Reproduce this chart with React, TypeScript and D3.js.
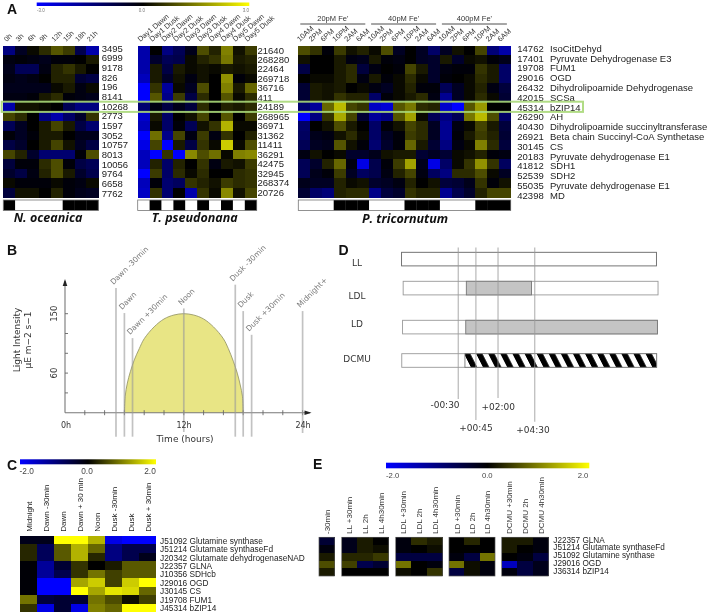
import React from "react";
import * as d3 from "d3";

// ---------- Panel A data ----------
const scaleA = [-3, 0, 3];
const oceanicaCols = ["0h", "3h", "6h", "9h", "12h", "15h", "18h", "21h"];
const oceanicaIds = ["3495", "6999", "9178", "826", "196", "8141", "10268", "2773", "1597", "3052", "10757", "8013", "10056", "9764", "6658", "7762"];
const oceanicaVals = [
  [-1.5, -0.4, 0.1, 0.5, 1, 0.7, -0.9, -2],
  [-0.2, -0.1, -0.2, -0.3, -0.1, -0.1, 0, 0.3],
  [-0.3, -1, -1, -0.2, 0.4, 0.6, 0.3, 0],
  [-0.2, -0.3, -0.2, 0, 0.4, 0.4, -0.6, -0.8],
  [-0.3, -0.3, -0.3, -0.3, 0.1, 0.3, -0.2, 0.1],
  [-0.2, -0.2, -0.1, 0.3, 0.5, -0.1, -0.2, -0.3],
  [-2, 0.2, 0.2, 0.1, 0, -1, -1.5, -1.5],
  [0.8, 0.5, 0, -1.5, -2, -1.2, -0.5, 0.6],
  [-1, -0.4, 0, 0.3, 0.8, 0.3, -0.8, -1.3],
  [-0.1, -0.4, -0.1, 0.3, 0.3, 0, -0.3, -0.3],
  [-0.8, -0.5, 0, 0.3, 0.8, 0.2, -0.4, -0.8],
  [0.8, 0.4, -0.5, -1.3, -1.3, -1.3, -0.1, 0.9],
  [-0.7, -0.1, -0.1, 0.5, 0.9, -0.1, -0.8, -1],
  [-0.5, -0.8, -0.2, 0.4, 0.9, 0.3, -0.5, -0.9],
  [0.1, -0.1, -0.1, -0.1, 0.1, -0.1, -0.2, 0.1],
  [-0.7, 0.2, 0.2, 0, 0.4, -0.1, -0.3, -0.4],
];
const oceanicaStrip = [1, 0, 0, 0, 0, 1, 1, 1];

const pseudoCols = ["Day1 Dawn", "Day1 Dusk", "Day2 Dawn", "Day2 Dusk", "Day3 Dawn", "Day3 Dusk", "Day4 Dawn", "Day4 Dusk", "Day5 Dawn", "Day5 Dusk"];
const pseudoIds = ["21640", "268280", "22464", "269718", "36716", "411", "24189", "268965", "36971", "31362", "11411", "36291", "42475", "32945", "268374", "20726"];
const pseudoVals = [
  [-2, 0, -1.5, -1, -0.3, 0.9, 0.4, 1.5, 0.2, 0.7],
  [-2, -0.5, -1, -0.9, 0.1, 0.4, 0.6, 1.4, 0.3, 0.4],
  [-2, 0.3, -0.8, 0.3, 0.1, 0.2, 0.1, 0.3, 0.2, 0.3],
  [-2.2, 0.3, -0.5, 0.2, -0.2, 0.2, 0, 1.7, -0.1, 0.1],
  [-3, 0.6, -1.8, 0.1, -0.4, 0.9, 0, 1.5, 0.3, 1.2],
  [-3, 1, -1.6, 0.7, -0.8, 0.5, 0, 1, 0.1, 0.5],
  [-1.3, -0.2, -0.8, -0.3, -0.7, 0.5, 0, 0.4, 0.3, 0.5],
  [-2.4, 0.3, -1.2, 0, 0.2, 0.8, 0, 1, 0, 0.7],
  [-2.2, 0.1, -1.2, -0.1, -1, 0.2, 0.6, 2.1, 0.1, 0.1],
  [-3, 1.3, -1.6, 0.8, -0.2, 0.7, -0.2, 0.6, 0, 0.4],
  [-2.7, 0.8, -3, 0.3, -0.8, 0.6, 0.1, 2.4, 0.1, 0.9],
  [-2.2, -3, 0.6, -3, 1.6, 0.9, 1.3, 0.1, 1.5, 1.6],
  [-2.2, 0.4, -1.2, 0.4, 0, 0.6, -0.2, 0.3, 0.2, 0.7],
  [-3, 0.7, -1.2, 0.5, 0.1, 0.5, 0, 0, 0.5, 0.6],
  [-2.2, -0.1, -1.3, -1.1, 0.6, 0.4, 0.2, 0.7, 0.5, 0.6],
  [-2.3, 0.6, -1.3, 0, -2, 0.6, 0.1, 1.6, 0.2, 0.8],
];
const pseudoStrip = [0, 1, 0, 1, 0, 1, 0, 1, 0, 1];

const tricoCols = ["10AM", "2PM", "6PM", "10PM", "2AM", "6AM", "10AM", "2PM", "6PM", "10PM", "2AM", "6AM", "10AM", "2PM", "6PM", "10PM", "2AM", "6AM"];
const tricoIds = ["14762", "17401", "19708", "29016", "26432", "42015", "45314", "26290", "40430", "26921", "30145", "20183", "41812", "52539", "55035", "42398"];
const tricoNames = ["IsoCitDehyd", "Pyruvate Dehydrogenase E3", "FUM1", "OGD", "Dihydrolipoamide Dehydrogenase", "SCSa", "bZIP14", "AH", "Dihydrolipoamide succinyltransferase", "Beta chain Succinyl-CoA Synthetase", "CS", "Pyruvate dehydrogenase E1", "SDH1", "SDH2", "Pyruvate dehydrogenase E1", "MD"];
const tricoVals = [
  [0.9, 0.6, -0.1, 0.7, 0.2, 0.4, 0.1, 0.9, -0.4, 0, -0.4, -1.2, -0.4, 0.2, 0, 0.8, -1.4, -2],
  [0.2, 0, 0, 0.3, -0.2, -0.3, 0.3, -0.1, -0.2, 0, -0.4, -0.5, 0.3, -0.5, 0.1, 0.2, -0.1, -0.3],
  [-0.8, 0, 0, 0.3, 0.5, -0.7, -0.2, 0, -0.1, 0.8, 0.3, -0.5, -0.2, -0.1, -0.1, 0.6, 0.3, -1.2],
  [0, 0.1, 0.1, 0.3, 0.5, -0.2, 0.3, -0.1, 0.1, 0.5, 0.1, -0.5, -0.1, 0, 0.1, 0.5, 0.3, -1.2],
  [-0.6, 0.3, 0.2, 0.3, 0, 0.1, -0.2, -0.4, 0.1, 0.4, -0.1, -0.1, -1, -0.4, 0.1, 0.4, -0.2, -0.7],
  [-0.6, 0.3, 0.2, 0.6, 0.4, 0.4, -1.2, -0.1, 0.1, 0.3, 0.5, -0.2, -1.7, -0.4, 0.1, 0.5, 0.1, -0.6],
  [-1.3, -1.8, 1.2, 2.2, 0.8, 0.6, -2.3, -2.5, 1, 1.4, 0.5, 0.4, -2.4, -3, 1, 1.8, 0, 0],
  [-3, -1.5, 0.6, 2, 0.8, -0.6, -1.8, -1.5, 1, 1.9, 0.1, -1, -1.5, -1, 1.4, 2.2, 0.9, -1.2],
  [-1.2, 0, 0.2, 0.9, 0.3, 0, -1.2, -0.1, 0.2, 0.8, 0.5, -0.4, -1.7, -0.2, 0.1, 0.8, 0.3, -0.7],
  [-1.1, -0.3, -0.2, 0.2, 0.5, 0.1, -1.2, -0.4, -0.1, 0.7, 0.5, -0.4, -1.7, -0.1, 0.3, 0.7, 0.4, -0.6],
  [-1, -0.4, -0.3, 1, 0.2, -0.1, -1.3, -0.5, -0.1, 1.2, 0.3, -0.6, -1.5, -0.2, 0.1, 1.5, 0.5, -0.7],
  [-0.2, 0.2, 0, 0.1, -0.5, -0.5, -0.3, 0.2, 0.3, 0.3, -0.6, -0.4, -0.6, 0.1, 0.2, 0.4, -0.1, -0.2],
  [-1, -0.5, 0.4, 1.2, -0.2, -2.7, -0.9, -0.1, 0.7, 1.9, -0.3, -2.7, -1.2, 0.1, 0.6, 1.7, 0.6, -1.1],
  [-1, -0.3, -0.1, 0.7, -0.4, -1.1, -0.9, -0.2, 0.4, 0.8, -0.2, -1.1, -1.5, 0.5, 0.5, 0.9, 0.1, -0.4],
  [-0.3, -0.4, -0.4, 0.4, 0.1, 0.2, -0.5, -0.4, -0.2, 0.4, 0, 0.2, -0.7, -0.6, -0.3, 0.6, -0.1, 0.2],
  [-0.6, -1.2, -1.4, 0.4, 0.5, 0.5, -1.6, -0.7, -0.5, 0.6, 0.4, 0.4, -1.7, -0.9, -0.5, 0.4, 0.8, 0.8],
];
const tricoStrip = [0, 0, 0, 1, 1, 1, 0, 0, 0, 1, 1, 1, 0, 0, 0, 1, 1, 1];
const feGroups = ["20pM Fe'", "40pM Fe'", "400pM Fe'"];

// ---------- Panel B data ----------
const lightHours = [6, 6.08, 6.3, 6.6, 7, 7.5, 8, 9, 10, 11, 12, 13, 14, 15, 16, 16.5, 17, 17.4, 17.7, 17.92, 18];
const lightValues = [0, 25, 45, 62, 80, 97, 112, 130, 142, 148, 150, 148, 142, 130, 112, 97, 78, 60, 42, 25, 0];
const eventLabels = ["Dawn -30min", "Dawn", "Dawn +30min", "Noon", "Dusk -30min", "Dusk", "Dusk +30min", "Midnight+"];
const eventHours = [5.15, 6, 6.82, 12, 17.2, 18, 18.85, 24];
const eventTopValues = [189, 151, 113, 158, 194, 154, 118, 154];
const xTickHours = [2, 4, 6, 8, 10, 12, 14, 16, 18, 20, 22, 24];
const yTickValues = [30, 60, 90, 120, 150];

// ---------- Panel D data ----------
const treatNames = ["LL", "LDL", "LD", "DCMU"];
const treatOffsets = [-0.2, 1.4, 0.8, 0];
const treatDarkStart = [null, 0, 0, 0];
const treatDarkEnd = [null, 4.2, 12.48, 12.48];
const timeHours = [-0.5, 0.65, 2.1, 4.5];
const timeLabels = ["-00:30", "+00:45", "+02:00", "+04:30"];

// ---------- Panel C data ----------
const cCols = ["Midnight", "Dawn -30min", "Dawn", "Dawn + 30 min", "Noon", "Dusk -30min", "Dusk", "Dusk + 30min"];
const cRows = ["J51092 Glutamine synthase", "J51214 Glutamate synthaseFd", "J20342 Glutamate dehydrogenaseNAD", "J22357 GLNA", "J10356 SDHcb", "J29016 OGD", "J30145 CS", "J19708 FUM1", "J45314 bZIP14"];
const cVals = [
  [-0.2, -0.2, 2, 2, 1.4, -1.8, -2, -2],
  [0.3, -0.7, 0.7, 1.4, 0.8, -1, -0.6, -0.6],
  [0.3, -0.7, 0.7, 1.4, 0.3, -1, -0.6, -0.2],
  [-0.05, -1.2, -0.4, 0.4, 0, 0.2, 0.7, 0.7],
  [-0.05, -1.2, -0.6, 0.4, 0.9, 0.5, 0.7, 0.7],
  [-0.05, -2, -2, 1.3, 1.6, 0.5, 1.6, 2],
  [-0.05, -2, -2, 2, 1.3, 1.8, 1.7, 0.8],
  [0.9, -0.5, -0.4, -0.4, 0.9, 0.6, 0.1, 0.5],
  [0.4, -1.8, -0.4, -1.8, 1, 0.8, 2, 2],
];

// ---------- Panel E data ----------
const eRows = ["J22357 GLNA", "J51214 Glutamate synthaseFd", "J51092 Glutamine synthase", "J29016 OGD", "J36314 bZIP14"];
const eBaseCols = ["-30min"];
const eBaseVals = [[-0.4], [-0.1], [0.2], [0.6], [0.2]];
const eLLCols = ["LL +30min", "LL 2h", "LL 4h30min"];
const eLLVals = [[-0.2, 0.2, 0], [-0.2, 0.2, 0.1], [0.3, 0.3, 0.45], [0.5, -0.6, -0.4], [0, 0, 0]];
const eLDLCols = ["LDL +30min", "LDL 2h", "LDL 4h30min"];
const eLDLVals = [[-0.1, 0.35, 0.2], [-0.1, 0, 0.1], [-0.5, -0.5, -0.5], [0.9, 0, -0.1], [0.1, 0, 0.4]];
const eLDCols = ["LD +30min", "LD 2h", "LD 4h30min"];
const eLDVals = [[0, 0.3, 0], [0, 0, 0], [-0.1, -0.5, 0.9], [0.9, 0.1, -0.1], [-0.5, 0.1, -0.1]];
const eDCMUCols = ["DCMU +30min", "DCMU 2h", "DCMU 4h30min"];
const eDCMUVals = [[0.2, 0.2, -0.1], [0.2, 0, -0.1], [0, -0.1, -0.5], [-1.5, -0.5, -0.2], [-0.1, -0.5, -0.2]];
const scaleTwo = [-2, 0, 2];

const ARIAL = "'Liberation Sans', Arial, sans-serif";
const DEJAVU = "'DejaVu Sans', sans-serif";
const SPECIES = "'Open Sans', sans-serif";
const RAMP = ["#0000ff", "#000000", "#ffff00"];
const colorFor = (domain: number[]) => d3.scaleLinear<string>().domain(domain).range(RAMP).clamp(true);

function Heat({ x0, x1, y0, y1, cols, vals, domain }: any) {
  const xs = d3.scaleBand<number>().domain(d3.range(cols)).range([x0, x1]);
  const ys = d3.scaleBand<number>().domain(d3.range(vals.length)).range([y0, y1]);
  const c = colorFor(domain);
  return (
    <g shapeRendering="crispEdges">
      {vals.map((row: number[], r: number) =>
        row.map((v, i) => (
          <rect key={r + "-" + i} x={xs(i)} y={ys(r)} width={xs.bandwidth() + 0.4} height={ys.bandwidth() + 0.4} fill={c(v)} />
        ))
      )}
    </g>
  );
}

function RotCols({ x0, x1, labels, y, dx, angle, size, fill = "#333" }: any) {
  const xs = d3.scaleBand<number>().domain(d3.range(labels.length)).range([x0, x1]);
  return (
    <g fontFamily={ARIAL} fontSize={size} fill={fill}>
      {labels.map((t: string, i: number) => {
        const x = xs(i)! + xs.bandwidth() / 2 + dx;
        return <text key={i} transform={`translate(${x},${y}) rotate(${angle})`}>{t}</text>;
      })}
    </g>
  );
}

function Strip({ x0, x1, y0, y1, flags }: any) {
  const xs = d3.scaleBand<number>().domain(d3.range(flags.length)).range([x0, x1]);
  return (
    <g>
      {flags.map((f: number, i: number) => (
        <rect key={i} x={xs(i)} y={y0} width={xs.bandwidth() + 0.3} height={y1 - y0} fill={f ? "#000" : "#fff"} />
      ))}
      <rect x={x0} y={y0} width={x1 - x0} height={y1 - y0} fill="none" stroke="#777" strokeWidth={0.8} />
    </g>
  );
}

function IdColumn({ x, y0, y1, ids, size = 9.5 }: any) {
  const ys = d3.scaleLinear().domain([0, ids.length - 1]).range([y0, y1]);
  return (
    <g fontFamily={ARIAL} fontSize={size} fill="#222" dominantBaseline="central">
      {ids.map((t: string, i: number) => <text key={i} x={x} y={ys(i)}>{t}</text>)}
    </g>
  );
}

function ColorBar({ id, x0, x1, y0, y1 }: any) {
  return (
    <g>
      <defs>
        <linearGradient id={id}>
          <stop offset="0" stopColor={RAMP[0]} />
          <stop offset="0.5" stopColor={RAMP[1]} />
          <stop offset="1" stopColor={RAMP[2]} />
        </linearGradient>
      </defs>
      <rect x={x0} y={y0} width={x1 - x0} height={y1 - y0} fill={`url(#${id})`} />
    </g>
  );
}

function PanelA() {
  const top = 45.5, bottom = 197.3;
  return (
    <g>
      <ColorBar id="gradA" x0={36.7} x1={249.3} y0={2.5} y1={6} />
      <g fontFamily={ARIAL} fontSize={4.5} fill="#777" textAnchor="middle">
        <text x={41} y={11.5}>-3.0</text>
        <text x={142} y={11.5}>0.0</text>
        <text x={246} y={11.5}>3.0</text>
      </g>
      <Heat x0={3.3} x1={98.3} y0={top} y1={bottom} cols={8} vals={oceanicaVals} domain={scaleA} />
      <Heat x0={137.7} x1={256.7} y0={top} y1={bottom} cols={10} vals={pseudoVals} domain={scaleA} />
      <Heat x0={298.3} x1={510.7} y0={top} y1={bottom} cols={18} vals={tricoVals} domain={scaleA} />
      <RotCols x0={3.3} x1={98.3} labels={oceanicaCols} y={42} dx={-2.5} angle={-45} size={7} />
      <RotCols x0={137.7} x1={256.7} labels={pseudoCols} y={42} dx={-3.5} angle={-40} size={7.4} />
      <RotCols x0={298.3} x1={510.7} labels={tricoCols} y={42} dx={-4.5} angle={-42} size={7.4} />
      {feGroups.map((t, i) => {
        const xs = d3.scaleBand<number>().domain(d3.range(3)).range([298.3, 510.7]);
        const x = xs(i)!;
        return (
          <g key={t}>
            <line x1={x + 2} x2={x + 67} y1={24} y2={24} stroke="#222" strokeWidth={0.8} />
            <text x={x + 34.5} y={21} textAnchor="middle" fontFamily={ARIAL} fontSize={7.5} fill="#333">{t}</text>
          </g>
        );
      })}
      <IdColumn x={101.7} y0={48.3} y1={193.3} ids={oceanicaIds} />
      <IdColumn x={257.5} y0={50} y1={192.3} ids={pseudoIds} />
      <IdColumn x={517.3} y0={48.3} y1={195.3} ids={tricoIds} />
      <IdColumn x={550} y0={48.3} y1={195.3} ids={tricoNames} />
      <Strip x0={3.3} x1={98.3} y0={200} y1={210.5} flags={oceanicaStrip} />
      <Strip x0={137.7} x1={256.7} y0={200} y1={210.5} flags={pseudoStrip} />
      <Strip x0={298.3} x1={510.7} y0={200} y1={210.5} flags={tricoStrip} />
      <g fontFamily={SPECIES} fontSize={12.5} fontWeight={700} fontStyle="italic" fill="#111" textAnchor="middle">
        <text x={48} y={222}>N. oceanica</text>
        <text x={194.7} y={222}>T. pseudonana</text>
        <text x={405} y={222.5}>P. tricornutum</text>
      </g>
      <rect x={1.7} y={101.7} width={581.3} height={10.2} fill="none" stroke="#a9d878" strokeWidth={2} opacity={0.9} />
    </g>
  );
}

function PanelB() {
  const x = d3.scaleLinear().domain([0, 24]).range([65, 302.6]);
  const y = d3.scaleLinear().domain([0, 150]).range([412.7, 313.7]);
  const pts = lightHours.map((h, i) => [h, lightValues[i]] as [number, number]);
  const area = d3.area<[number, number]>().x(d => x(d[0])).y0(y(0)).y1(d => y(d[1])).curve(d3.curveCatmullRom);
  const line = d3.line<[number, number]>().x(d => x(d[0])).y(d => y(d[1])).curve(d3.curveCatmullRom);
  const lineBottom = [436.7, 436.7, 436.7, 432, 436.7, 436.7, 436.7, 433];
  return (
    <g fontFamily={DEJAVU}>
      <path d={area(pts)!} fill="#e8e585" />
      <path d={line(pts)!} fill="none" stroke="#9a9a6a" strokeWidth={0.9} />
      <line x1={x(0)} x2={x(0)} y1={y(0)} y2={281} stroke="#777" strokeWidth={1.1} />
      <line x1={x(0)} x2={310} y1={y(0)} y2={y(0)} stroke="#777" strokeWidth={1.1} />
      <path d={`M${x(0)},279 l-2.3,7 h4.6 z`} fill="#222" />
      <path d={`M311.5,${y(0)} l-7,-2.3 v4.6 z`} fill="#222" />
      {xTickHours.map(h => <line key={h} x1={x(h)} x2={x(h)} y1={y(0) - 2.5} y2={y(0) + 2.5} stroke="#666" strokeWidth={0.9} />)}
      {yTickValues.map(v => <line key={v} x1={x(0)} x2={x(0) + 3} y1={y(v)} y2={y(v)} stroke="#666" strokeWidth={0.9} />)}
      {eventHours.map((h, i) => (
        <g key={i}>
          <line x1={x(h)} x2={x(h)} y1={y(eventTopValues[i])} y2={lineBottom[i]} stroke="#9a9a9a" strokeOpacity={0.6} strokeWidth={1.7} />
          <text transform={`translate(${x(h) - 2.5},${y(eventTopValues[i]) - 3}) rotate(-45)`} fontSize={7.5} fill="#777">{eventLabels[i]}</text>
        </g>
      ))}
      <g fontSize={8} fill="#333" textAnchor="middle">
        <text x={66} y={428}>0h</text>
        <text x={184} y={428}>12h</text>
        <text x={303} y={428}>24h</text>
        <text x={185} y={441.5} fontSize={9}>Time (hours)</text>
        <text transform={`translate(57,${y(150)}) rotate(-90)`} fontSize={8.5}>150</text>
        <text transform={`translate(57,${y(60)}) rotate(-90)`} fontSize={8.5}>60</text>
        <text transform="translate(19.5,340) rotate(-90)" fontSize={9}>Light Intensity</text>
        <text transform="translate(31,340) rotate(-90)" fontSize={9}>µE m−2 s−1</text>
      </g>
    </g>
  );
}

function PanelD() {
  const x = d3.scaleLinear().domain([-0.5, 4.5]).range([458.3, 534.7]);
  const rowTop = [252.3, 281.3, 320.3, 353.7];
  const labelY = [266, 299, 327, 362];
  const tickBottom = [399, 420, 398, 421.7];
  const labelTop = [407.5, 430.5, 409.5, 432.5];
  const labelX = [445, 476, 498.3, 533];
  const barStart = -4.2, barEnd = 12.48;
  return (
    <g fontFamily={DEJAVU}>
      <defs>
        <pattern id="hatch" width={12.1} height={13.6} patternUnits="userSpaceOnUse" patternTransform="translate(464,353.7) skewX(27)">
          <rect width={12.1} height={13.6} fill="#fff" />
          <rect width={6.3} height={13.6} fill="#000" />
        </pattern>
      </defs>
      {treatNames.map((n, i) => {
        const off = treatOffsets[i];
        const y0 = rowTop[i];
        const ds = treatDarkStart[i], de = treatDarkEnd[i];
        return (
          <g key={n}>
            <rect x={x(barStart) + off} y={y0} width={x(barEnd) - x(barStart)} height={13.6} fill="#fff" stroke={i === 0 ? "#666" : "#999"} strokeWidth={0.9} />
            {ds !== null && (
              <rect x={x(ds!) + off - 1} y={y0} width={x(de!) - x(ds!) + 1} height={13.6}
                fill={n === "DCMU" ? "url(#hatch)" : "#c4c4c4"} stroke="#777" strokeWidth={0.9} />
            )}
            <text x={357} y={labelY[i]} textAnchor="middle" fontSize={9} fontWeight={400} fill="#333">{n}</text>
          </g>
        );
      })}
      {timeHours.map((h, i) => (
        <g key={i}>
          <line x1={x(h)} x2={x(h)} y1={247.5} y2={tickBottom[i]} stroke="#9a9a9a" strokeOpacity={0.6} strokeWidth={1.4} />
          <text x={labelX[i]} y={labelTop[i]} textAnchor="middle" fontSize={9} fill="#333">{timeLabels[i]}</text>
        </g>
      ))}
    </g>
  );
}

function PanelC() {
  const rowY = d3.scaleLinear().domain([0, 8]).range([540.7, 608]);
  return (
    <g>
      <ColorBar id="gradC" x0={20} x1={156} y0={459.3} y1={464.3} />
      <g fontFamily={ARIAL} fontSize={8.3} fill="#444" textAnchor="middle">
        <text x={26.7} y={474}>-2.0</text>
        <text x={87} y={474}>0.0</text>
        <text x={150} y={474}>2.0</text>
      </g>
      <Heat x0={20} x1={156} y0={535.7} y1={612} cols={8} vals={cVals} domain={scaleTwo} />
      <RotCols x0={20} x1={156} labels={cCols} y={531.7} dx={3} angle={-90} size={8} fill="#222" />
      <IdColumn x={160} y0={rowY(0)} y1={rowY(8)} ids={cRows} size={8.3} />
    </g>
  );
}

function PanelE() {
  const groups = [
    { x0: 319, x1: 334.3, cols: eBaseCols, vals: eBaseVals },
    { x0: 341.7, x1: 388.3, cols: eLLCols, vals: eLLVals },
    { x0: 395.7, x1: 442.3, cols: eLDLCols, vals: eLDLVals },
    { x0: 449, x1: 495, cols: eLDCols, vals: eLDVals },
    { x0: 501.7, x1: 548.3, cols: eDCMUCols, vals: eDCMUVals },
  ];
  return (
    <g>
      <ColorBar id="gradE" x0={386} x1={589.3} y0={462.7} y1={468.3} />
      <g fontFamily={ARIAL} fontSize={7.7} fill="#444" textAnchor="middle">
        <text x={392.7} y={478}>-2.0</text>
        <text x={487.3} y={478}>0.0</text>
        <text x={583} y={478}>2.0</text>
      </g>
      {groups.map((g, i) => (
        <g key={i}>
          <Heat x0={g.x0} x1={g.x1} y0={537.3} y1={576} cols={g.cols.length} vals={g.vals} domain={scaleTwo} />
          <rect x={g.x0} y={537.3} width={g.x1 - g.x0} height={38.7} fill="none" stroke="#555" strokeWidth={0.7} />
          <RotCols x0={g.x0} x1={g.x1} labels={g.cols} y={534} dx={3} angle={-90} size={8} fill="#333" />
        </g>
      ))}
      <IdColumn x={553.3} y0={540} y1={571} ids={eRows} size={8.2} />
    </g>
  );
}

export default function App() {
  return (
    <svg width={709} height={612} viewBox="0 0 709 612" style={{ position: "absolute", left: 0, top: 0, background: "#fff", filter: "blur(0.35px)" }}>
      <PanelA />
      <PanelB />
      <PanelD />
      <PanelC />
      <PanelE />
      <g fontFamily={ARIAL} fontSize={14} fontWeight={700} fill="#111">
        <text x={7} y={14}>A</text>
        <text x={7} y={255}>B</text>
        <text x={7} y={470}>C</text>
        <text x={338.5} y={255}>D</text>
        <text x={313} y={469}>E</text>
      </g>
    </svg>
  );
}
